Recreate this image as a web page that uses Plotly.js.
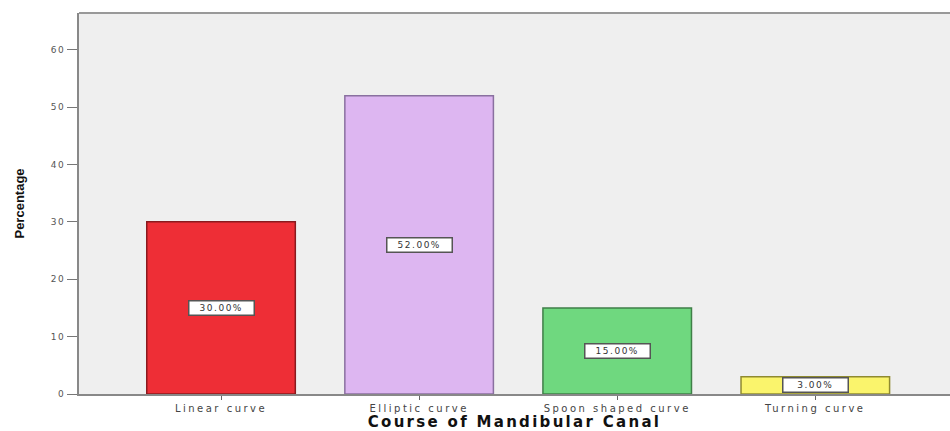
<!DOCTYPE html>
<html>
<head>
<meta charset="utf-8">
<script src="https://cdn.plot.ly/plotly-3.0.1.min.js"></script>
<style>
html,body{margin:0;padding:0;background:#fff;}
#chart{width:950px;height:431px;}
#chart .xtick text{letter-spacing:2.5px;}
#chart .ytick text{letter-spacing:1.5px;}
#chart .g-xtitle text{letter-spacing:2.3px;}
#chart .annotation-text{letter-spacing:1.5px;}
</style>
</head>
<body>
<div id="chart"></div>
<script>
const categories = ["Linear curve", "Elliptic curve", "Spoon shaped curve", "Turning curve"];
const percentages = [30, 52, 15, 3];
const labels = ["30.00%", "52.00%", "15.00%", "3.00%"];
const barColors = ["#EE2E36", "#DDB6F1", "#6FD87F", "#FAF46C"];
const lineColors = ["#8a1a1e", "#8a70a0", "#3f7f48", "#8f8a30"];
const yTicks = [0, 10, 20, 30, 40, 50, 60];

const trace = {
  type: "bar",
  x: categories.map((c, i) => i),
  y: percentages,
  width: 0.75,
  marker: {color: barColors, line: {color: lineColors, width: 1.5}},
  hoverinfo: "skip"
};

const annotations = categories.map((c, i) => ({
  x: i, y: percentages[i] / 2, xref: "x", yref: "y",
  text: labels[i], showarrow: false,
  width: 62, height: 11,
  font: {family: "DejaVu Sans, Arial, sans-serif", size: 9, color: "#333"},
  bgcolor: "#ffffff", bordercolor: "#555", borderwidth: 1.5, borderpad: 1
}));

const layout = {
  width: 950, height: 431,
  margin: {l: 79, r: 0, t: 13, b: 37},
  paper_bgcolor: "#ffffff",
  plot_bgcolor: "#EFEFEF",
  showlegend: false,
  xaxis: {
    range: [-0.717, 3.68],
    tickvals: [0, 1, 2, 3],
    ticktext: categories,
    showline: true, linecolor: "#888", linewidth: 2,
    ticks: "outside", ticklen: 4, tickcolor: "#666",
    tickfont: {family: "DejaVu Sans, Arial, sans-serif", size: 10, color: "#444"},
    showgrid: false, zeroline: false,
    title: {text: "<b>Course of Mandibular Canal</b>", standoff: 3,
      font: {family: "DejaVu Sans, Arial, sans-serif", size: 15, color: "#111"}}
  },
  yaxis: {
    range: [0, 66.4],
    tickvals: yTicks,
    showline: true, linecolor: "#888", linewidth: 2,
    ticks: "outside", ticklen: 10, tickcolor: "#777",
    tickfont: {family: "DejaVu Sans, Arial, sans-serif", size: 9, color: "#555"},
    showgrid: false, zeroline: false,
    title: {text: "<b>Percentage</b>", standoff: 26,
      font: {family: "Liberation Sans Narrow, Arial Narrow, sans-serif", size: 13, color: "#111"}}
  },
  shapes: [{type: "line", xref: "paper", yref: "paper", x0: 0, x1: 1, y0: 1, y1: 1,
    line: {color: "#999", width: 2}}],
  annotations: annotations
};

Plotly.newPlot("chart", [trace], layout, {displayModeBar: false, staticPlot: true});
</script>
</body>
</html>
